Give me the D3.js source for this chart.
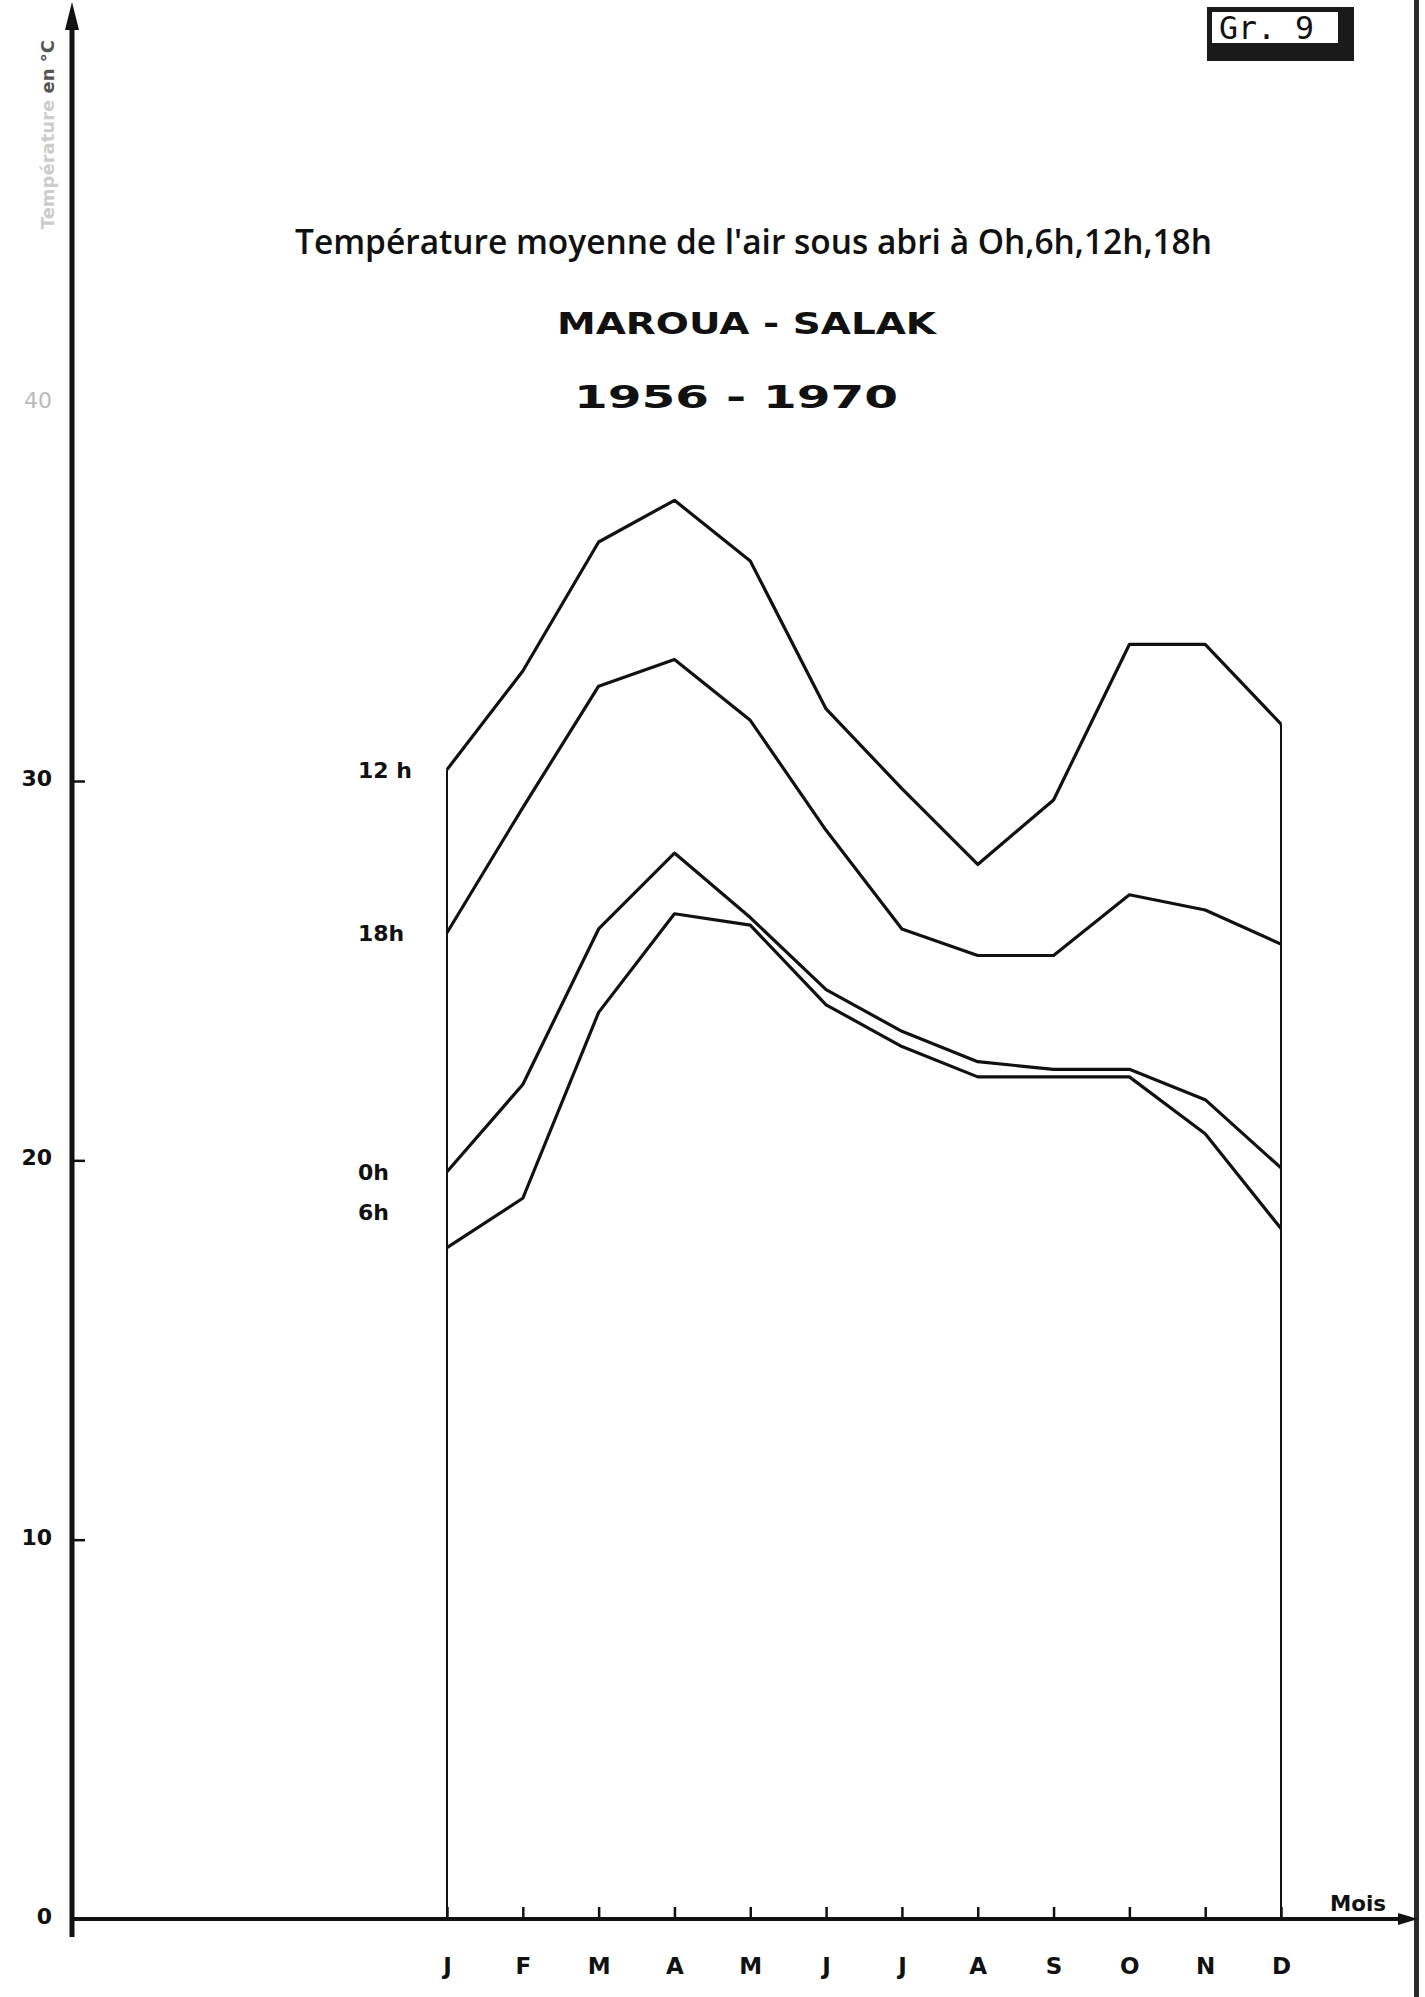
<!DOCTYPE html>
<html>
<head>
<meta charset="utf-8">
<script src="https://d3js.org/d3.v7.min.js"></script>
<style>
  body { margin: 0; background: #fff; overflow: hidden; }
  text { font-family: "DejaVu Sans", sans-serif; fill: #111; }
  .lbl { font-weight: bold; }
</style>
</head>
<body>
<div id="chart"></div>
<script>
// months on the x axis
var months = ["J", "F", "M", "A", "M2", "J2", "J3", "A2", "S", "O", "N", "D"];
var monthLabels = ["J", "F", "M", "A", "M", "J", "J", "A", "S", "O", "N", "D"];

// mean air temperature (°C) at each hour
var t12h = [30.3, 32.9, 36.3, 37.4, 35.8, 31.9, 29.8, 27.8, 29.5, 33.6, 33.6, 31.5];
var t18h = [26.0, 29.3, 32.5, 33.2, 31.6, 28.7, 26.1, 25.4, 25.4, 27.0, 26.6, 25.7];
var t0h  = [19.7, 22.0, 26.1, 28.1, 26.4, 24.5, 23.4, 22.6, 22.4, 22.4, 21.6, 19.8];
var t6h  = [17.7, 19.0, 23.9, 26.5, 26.2, 24.1, 23.0, 22.2, 22.2, 22.2, 20.7, 18.2];

var seriesNames = ["12 h", "18h", "0h", "6h"];
var yTicks = [0, 10, 20, 30];

var width = 1425, height = 1997;

var svg = d3.select("#chart").append("svg")
    .attr("width", width)
    .attr("height", height)
    .style("display", "block");

// scales
var x = d3.scalePoint().domain(months).range([447, 1281]);
var y = d3.scaleLinear().domain([0, 30]).range([1919, 781]);

// right page edge (scan border)
svg.append("rect")
    .attr("x", 1414).attr("y", 0).attr("width", 5).attr("height", height)
    .attr("fill", "#2a2a2a");

// titles
svg.append("text")
    .attr("x", 295).attr("y", 254)
    .attr("textLength", 917).attr("lengthAdjust", "spacingAndGlyphs")
    .style("font-family", "'Open Sans', sans-serif")
    .style("font-weight", 600)
    .style("font-size", "35px")
    .text("Température moyenne  de l'air sous abri à Oh,6h,12h,18h");

svg.append("text")
    .attr("x", 557).attr("y", 334)
    .attr("textLength", 379).attr("lengthAdjust", "spacingAndGlyphs")
    .style("font-weight", "bold")
    .style("font-size", "31px")
    .text("MAROUA  -  SALAK");

svg.append("text")
    .attr("x", 574).attr("y", 408)
    .attr("textLength", 324).attr("lengthAdjust", "spacingAndGlyphs")
    .style("font-weight", "bold")
    .style("font-size", "32px")
    .text("1956 - 1970");

// "Gr. 9" tag, top right
svg.append("rect")
    .attr("x", 1207).attr("y", 7).attr("width", 147).attr("height", 54)
    .attr("fill", "#1a1a1a");
svg.append("rect")
    .attr("x", 1212).attr("y", 12).attr("width", 126).attr("height", 31)
    .attr("fill", "#fff");
svg.append("text")
    .attr("x", 1219).attr("y", 39)
    .attr("textLength", 95).attr("lengthAdjust", "spacingAndGlyphs")
    .style("font-family", "'DejaVu Sans Mono', monospace")
    .style("font-size", "32px")
    .text("Gr. 9");

// faded rotated unit label on the left
svg.append("text")
    .attr("transform", "translate(54,40) rotate(-90)")
    .style("text-anchor", "end")
    .style("font-size", "18px")
    .style("font-weight", "bold")
    .html("<tspan fill='#ccc'>Température </tspan><tspan fill='#555'>en °C</tspan>");

// y axis
var yAxis = svg.append("g")
    .attr("transform", "translate(72,0)")
    .call(d3.axisLeft(y).tickValues(yTicks).tickSizeInner(-13).tickSizeOuter(0).tickPadding(20));
yAxis.select(".domain").remove();
yAxis.selectAll(".tick line").attr("stroke", "#111").attr("stroke-width", 2.5);
yAxis.selectAll(".tick text")
    .attr("class", "lbl")
    .style("font-size", "22px")
    .style("font-family", "'DejaVu Sans', sans-serif")
    .attr("fill", "#111")
    .attr("dy", "0.2em");

// faint 40 label
svg.append("text")
    .attr("x", 52).attr("y", y(40) + 6)
    .style("text-anchor", "end")
    .style("font-size", "22px")
    .style("fill", "#bbb")
    .text("40");

svg.append("line")
    .attr("x1", 72).attr("x2", 72).attr("y1", 22).attr("y2", 1937)
    .attr("stroke", "#111").attr("stroke-width", 5);
svg.append("path")
    .attr("d", "M72,2 L79,30 L65,30 Z")
    .attr("fill", "#111");

// x axis
var xAxis = svg.append("g")
    .attr("transform", "translate(0," + y(0) + ")")
    .call(d3.axisBottom(x).tickSizeInner(-12).tickSizeOuter(0).tickPadding(39)
        .tickFormat(function(d, i) { return monthLabels[i]; }));
xAxis.select(".domain").remove();
xAxis.selectAll(".tick line").attr("stroke", "#111").attr("stroke-width", 2.5);
xAxis.selectAll(".tick text")
    .attr("class", "lbl")
    .style("font-size", "23px")
    .style("font-family", "'DejaVu Sans', sans-serif")
    .attr("fill", "#111");

svg.append("line")
    .attr("x1", 72).attr("x2", 1406).attr("y1", y(0)).attr("y2", y(0))
    .attr("stroke", "#111").attr("stroke-width", 4);
svg.append("path")
    .attr("d", "M1418," + y(0) + " L1398," + (y(0) - 6) + " L1398," + (y(0) + 6) + " Z")
    .attr("fill", "#111");

svg.append("text")
    .attr("class", "lbl")
    .attr("x", 1330).attr("y", 1911)
    .attr("textLength", 56).attr("lengthAdjust", "spacingAndGlyphs")
    .style("font-size", "21px")
    .text("Mois");

// curves
var allSeries = [t12h, t18h, t0h, t6h];
var line = d3.line()
    .x(function(d, i) { return x(months[i]); })
    .y(function(d) { return y(d); });

svg.selectAll(".curve")
    .data(allSeries)
    .enter()
    .append("path")
    .attr("class", "curve")
    .attr("d", line)
    .attr("fill", "none")
    .attr("stroke", "#111")
    .attr("stroke-width", 3.2)
    .attr("stroke-linejoin", "round");

// vertical lines closing the diagram at January and December
svg.selectAll(".edge")
    .data([0, 11])
    .enter()
    .append("line")
    .attr("class", "edge")
    .attr("x1", function(i) { return x(months[i]); })
    .attr("x2", function(i) { return x(months[i]); })
    .attr("y1", y(0))
    .attr("y2", function(i) { return y(t12h[i]); })
    .attr("stroke", "#111")
    .attr("stroke-width", 2);

// series labels left of January
var labelOffsets = [0, 0, 0, -36];
svg.selectAll(".slabel")
    .data(seriesNames)
    .enter()
    .append("text")
    .attr("class", "lbl")
    .attr("x", 358)
    .attr("y", function(d, i) { return y(allSeries[i][0]) + 8 + labelOffsets[i]; })
    .style("font-size", "22px")
    .text(function(d) { return d; });
</script>
</body>
</html>
